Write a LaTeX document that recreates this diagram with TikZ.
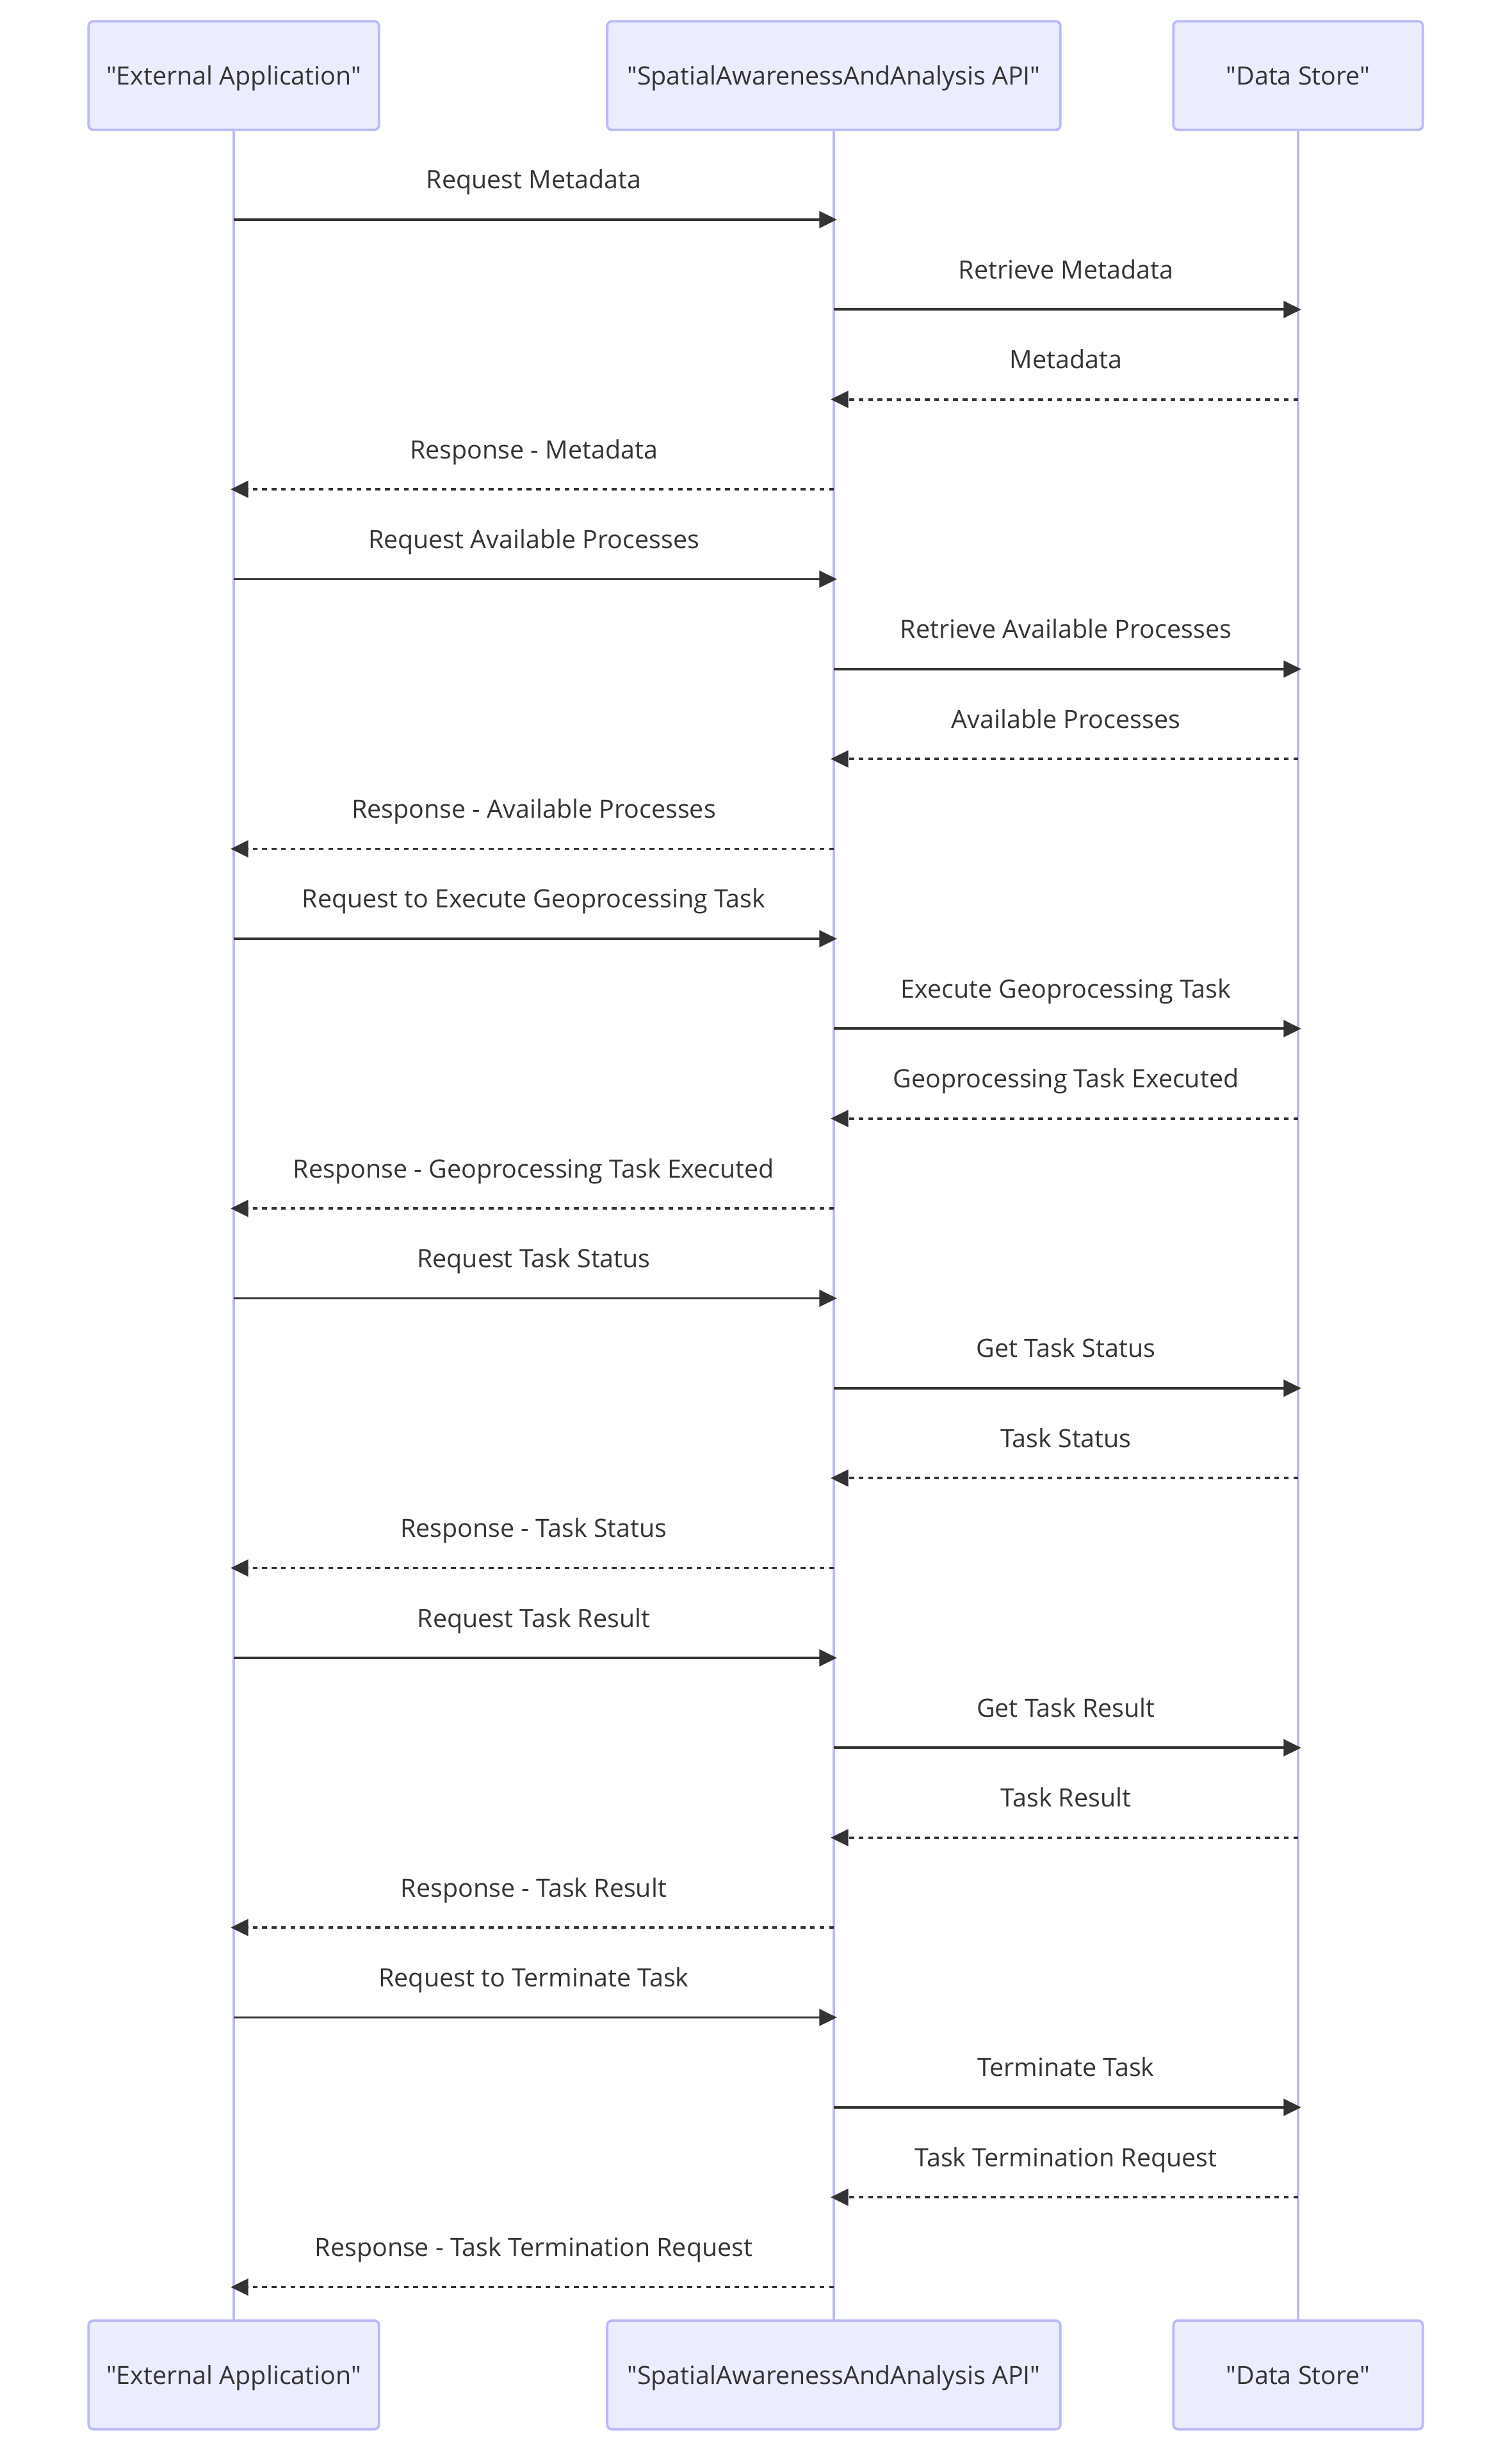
\documentclass[tikz,border=0pt]{standalone}
\usepackage{fontspec}
\setmainfont{Open Sans}[Ligatures=TeXOff]
\usepackage{tikz}
\usepackage{xcolor}
\usetikzlibrary{positioning,arrows.meta}
\definecolor{actorfill}{HTML}{ECECFF}
\definecolor{actorline}{HTML}{BABAF8}
\definecolor{msgcol}{HTML}{333333}

\begin{document}
\begin{tikzpicture}[x=0.025cm,y=-0.025cm]
\tikzstyle{every node}+=[inner sep=0pt, font=\fontsize{11.4pt}{13.7pt}\selectfont, text=msgcol]
\tikzstyle{actor}=[draw=actorline, fill=actorfill, line width=1.1pt, rounded corners=0.075cm, minimum height=1.725cm, text height=0.3cm, text depth=0cm]
\tikzstyle{lifeline}=[actorline, line width=1.1pt]
\tikzstyle{msg}=[msgcol, line width=1.07pt, -{Triangle[length=0.28cm,width=0.265cm]}, shorten >=-0.05cm]
\tikzstyle{reply}=[msg, dash pattern=on 0.075cm off 0.075cm]
\tikzstyle{lbl}=[midway, anchor=base, yshift=0.4875cm]
\useasboundingbox (0,0) rectangle (960,1562);
\node [actor, minimum width=4.61cm] (extTop) at (148.5,48) {"External Application"};
\node [actor, minimum width=7.195cm] (apiTop) at (529.6,48) {"SpatialAwarenessAndAnalysis API"};
\node [actor, minimum width=3.96cm] (storeTop) at (824.5,48) {"Data Store"};
\node [actor, minimum width=4.61cm] (extBot) at (148.5,1508.6) {"External Application"};
\node [actor, minimum width=7.195cm] (apiBot) at (529.6,1508.6) {"SpatialAwarenessAndAnalysis API"};
\node [actor, minimum width=3.96cm] (storeBot) at (824.5,1508.6) {"Data Store"};
\draw [lifeline] (extTop.south) -- (extBot.north);
\draw [lifeline] (apiTop.south) -- (apiBot.north);
\draw [lifeline] (storeTop.south) -- (storeBot.north);
\draw [msg] (extTop |- 0,139.5) -- node [lbl] (m1) {Request Metadata} (apiTop |- 0,139.5);
\draw [msg] (apiTop |- 0,196.6) -- node [lbl] (m2) {Retrieve Metadata} (storeTop |- 0,196.6);
\draw [reply] (storeTop |- 0,253.7) -- node [lbl] (m3) {Metadata} (apiTop |- 0,253.7);
\draw [reply] (apiTop |- 0,310.8) -- node [lbl] (m4) {Response - Metadata} (extTop |- 0,310.8);
\draw [msg] (extTop |- 0,367.9) -- node [lbl] (m5) {Request Available Processes} (apiTop |- 0,367.9);
\draw [msg] (apiTop |- 0,425) -- node [lbl] (m6) {Retrieve Available Processes} (storeTop |- 0,425);
\draw [reply] (storeTop |- 0,482.1) -- node [lbl] (m7) {Available Processes} (apiTop |- 0,482.1);
\draw [reply] (apiTop |- 0,539.2) -- node [lbl] (m8) {Response - Available Processes} (extTop |- 0,539.2);
\draw [msg] (extTop |- 0,596.3) -- node [lbl] (m9) {Request to Execute Geoprocessing Task} (apiTop |- 0,596.3);
\draw [msg] (apiTop |- 0,653.4) -- node [lbl] (m10) {Execute Geoprocessing Task} (storeTop |- 0,653.4);
\draw [reply] (storeTop |- 0,710.5) -- node [lbl] (m11) {Geoprocessing Task Executed} (apiTop |- 0,710.5);
\draw [reply] (apiTop |- 0,767.6) -- node [lbl] (m12) {Response - Geoprocessing Task Executed} (extTop |- 0,767.6);
\draw [msg] (extTop |- 0,824.7) -- node [lbl] (m13) {Request Task Status} (apiTop |- 0,824.7);
\draw [msg] (apiTop |- 0,881.8) -- node [lbl] (m14) {Get Task Status} (storeTop |- 0,881.8);
\draw [reply] (storeTop |- 0,938.9) -- node [lbl] (m15) {Task Status} (apiTop |- 0,938.9);
\draw [reply] (apiTop |- 0,996) -- node [lbl] (m16) {Response - Task Status} (extTop |- 0,996);
\draw [msg] (extTop |- 0,1053.1) -- node [lbl] (m17) {Request Task Result} (apiTop |- 0,1053.1);
\draw [msg] (apiTop |- 0,1110.2) -- node [lbl] (m18) {Get Task Result} (storeTop |- 0,1110.2);
\draw [reply] (storeTop |- 0,1167.3) -- node [lbl] (m19) {Task Result} (apiTop |- 0,1167.3);
\draw [reply] (apiTop |- 0,1224.4) -- node [lbl] (m20) {Response - Task Result} (extTop |- 0,1224.4);
\draw [msg] (extTop |- 0,1281.5) -- node [lbl] (m21) {Request to Terminate Task} (apiTop |- 0,1281.5);
\draw [msg] (apiTop |- 0,1338.6) -- node [lbl] (m22) {Terminate Task} (storeTop |- 0,1338.6);
\draw [reply] (storeTop |- 0,1395.7) -- node [lbl] (m23) {Task Termination Request} (apiTop |- 0,1395.7);
\draw [reply] (apiTop |- 0,1452.8) -- node [lbl] (m24) {Response - Task Termination Request} (extTop |- 0,1452.8);
\end{tikzpicture}
\end{document}
